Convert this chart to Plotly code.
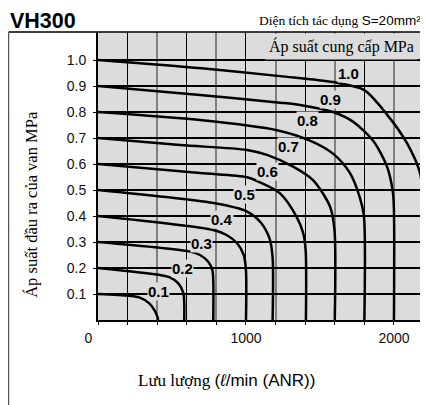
import plotly.graph_objects as go

# ---------------- data ----------------
supply_labels = ["0.1", "0.2", "0.3", "0.4", "0.5", "0.6", "0.7", "0.8", "0.9", "1.0"]

flow_01 = [0, 212, 279, 347, 381, 400, 405, 405]
pres_01 = [0.1, 0.093, 0.087, 0.064, 0.038, 0.015, 0.005, 0]

flow_02 = [0, 419, 486, 543, 577, 583, 583]
pres_02 = [0.2, 0.173, 0.164, 0.141, 0.103, 0.06, 0]

flow_03 = [0, 622, 689, 745, 773, 779, 779]
pres_03 = [0.3, 0.263, 0.25, 0.224, 0.192, 0.15, 0]

flow_04 = [0, 779, 869, 940, 985, 1000, 1000]
pres_04 = [0.4, 0.346, 0.327, 0.295, 0.25, 0.19, 0]

flow_05 = [0, 800, 1004, 1100, 1160, 1180, 1180]
pres_05 = [0.5, 0.448, 0.418, 0.375, 0.312, 0.24, 0]

flow_06 = [0, 689, 1007, 1100, 1230, 1342, 1387, 1403, 1405]
pres_06 = [0.6, 0.565, 0.549, 0.528, 0.487, 0.397, 0.333, 0.27, 0]

flow_07 = [0, 554, 1007, 1142, 1318, 1453, 1568, 1598, 1600]
pres_07 = [0.7, 0.673, 0.654, 0.635, 0.59, 0.538, 0.436, 0.346, 0]

flow_08 = [0, 689, 1209, 1432, 1588, 1703, 1770, 1797, 1800]
pres_08 = [0.8, 0.769, 0.73, 0.69, 0.64, 0.565, 0.47, 0.40, 0]

flow_09 = [0, 689, 1230, 1365, 1588, 1723, 1858, 1953, 1993, 2000, 2000]
pres_09 = [0.9, 0.865, 0.836, 0.827, 0.80, 0.763, 0.69, 0.59, 0.49, 0.42, 0]

flow_10 = [0, 700, 1230, 1588, 1797, 1953, 2088, 2176, 2196, 2200]
pres_10 = [1.0, 0.968, 0.938, 0.915, 0.885, 0.79, 0.68, 0.565, 0.46, 0]

label_flow = [412, 568, 696, 838, 993, 1142, 1284, 1419, 1568, 1696]
label_pres = [0.108, 0.2, 0.296, 0.388, 0.481, 0.573, 0.669, 0.769, 0.85, 0.95]

x_tick_vals = [0, 1000, 2000]
x_tick_text = ["0\u00a0\u00a0\u00a0\u00a0\u00a0", "1000", "2000"]
y_tick_vals = [0.1, 0.2, 0.3, 0.4, 0.5, 0.6, 0.7, 0.8, 0.9, 1.0]

flows = [flow_01, flow_02, flow_03, flow_04, flow_05, flow_06, flow_07, flow_08, flow_09, flow_10]
pressures = [pres_01, pres_02, pres_03, pres_04, pres_05, pres_06, pres_07, pres_08, pres_09, pres_10]

# ---------------- figure ----------------
BG = "#dcdcdc"
SANS = "Liberation Sans, Arial, sans-serif"
SERIF = "Liberation Serif, Times New Roman, serif"

fig = go.Figure()
for fx, py, name in zip(flows, pressures, supply_labels):
    fig.add_trace(go.Scatter(
        x=fx, y=py, mode="lines", name=name,
        line=dict(color="black", width=2.5, shape="spline", smoothing=0.8),
        showlegend=False, hoverinfo="skip"))

# helper trace for the label axis
fig.add_trace(go.Scatter(x=[0], y=[0], xaxis="x2", mode="markers",
                         marker=dict(opacity=0), showlegend=False, hoverinfo="skip"))

annotations = []
for lx, ly, t in zip(label_flow, label_pres, supply_labels):
    annotations.append(dict(
        x=lx, y=ly, xref="x", yref="y", text="<b>" + t + "</b>", showarrow=False,
        font=dict(family=SANS, size=15, color="black"), bgcolor=BG, borderpad=0))

annotations += [
    dict(x=-0.2712, y=1.0399, xref="paper", yref="paper", xanchor="left", yanchor="middle",
         text="<b>VH300</b>", showarrow=False, borderpad=0,
         font=dict(family=SANS, size=21.5, color="black")),
    dict(x=0.985, y=1.04, xref="paper", yref="paper", xanchor="right", yanchor="middle",
         text='<span style="font-family:Liberation Serif">Diện tích tác dụng </span>S=20mm²',
         showarrow=False, font=dict(family=SANS, size=13.5, color="black")),
    dict(x=2165, y=1.052, xref="x", yref="y", xanchor="right", yanchor="middle",
         text="Áp suất cung cấp MPa", showarrow=False, bgcolor=BG, borderpad=3,
         font=dict(family=SERIF, size=16, color="black")),
    dict(x=-0.2, y=0.40, xref="paper", yref="paper", xanchor="center", yanchor="middle",
         text="Áp suất đầu ra của van MPa", textangle=-90, showarrow=False,
         font=dict(family=SERIF, size=16.5, color="black")),
    dict(x=0.39, y=-0.21, xref="paper", yref="paper", xanchor="center", yanchor="middle",
         text='<span style="font-family:Liberation Serif">Lưu lượng </span>(<i>ℓ</i>/min (ANR))',
         showarrow=False, font=dict(family=SANS, size=17, color="black")),
]

shapes = [
    dict(type="line", xref="paper", yref="paper", x0=-0.2712, x1=1, y0=1, y1=1,
         line=dict(color="black", width=1.5)),
    dict(type="line", xref="paper", yref="paper", x0=-0.2712, x1=-0.2712, y0=1, y1=-0.3,
         line=dict(color="#555555", width=1.5)),
]

# The page body has an 8px margin, so the figure is 8px smaller than the window
fig.update_layout(
    width=420, height=397,
    margin=dict(l=90, r=0, t=24, b=85, pad=0),
    paper_bgcolor="white", plot_bgcolor=BG,
    showlegend=False,
    annotations=annotations, shapes=shapes,
    xaxis=dict(
        range=[0, 2230], tickmode="linear", tick0=0, dtick=400,
        showgrid=True, gridcolor="#808080", gridwidth=1.6,
        showticklabels=False, ticks="outside", ticklen=3, tickcolor="black", tickwidth=1,
        minor=dict(tickmode="linear", tick0=0, dtick=200, showgrid=True,
                   gridcolor="black", gridwidth=1.4, ticks="outside", ticklen=3,
                   tickcolor="black"),
        showline=True, linecolor="black", linewidth=2, zeroline=False, fixedrange=True),
    xaxis2=dict(
        overlaying="x", anchor="y", side="bottom", range=[0, 2230],
        tickmode="array", tickvals=x_tick_vals, ticktext=x_tick_text,
        showgrid=False, zeroline=False, showline=False, ticks="",
        ticklabelstandoff=8,
        tickfont=dict(family=SANS, size=14, color="#111")),
    yaxis=dict(
        range=[0, 1.1077], tickmode="array", tickvals=y_tick_vals, tickformat=".1f",
        showgrid=True, gridcolor="black", gridwidth=1.5,
        ticks="outside", ticklen=3, tickcolor="black",
        showline=True, linecolor="black", linewidth=2, zeroline=False,
        ticklabelstandoff=4,
        tickfont=dict(family=SANS, size=14, color="#111")),
)

fig.write_html("out.html")
